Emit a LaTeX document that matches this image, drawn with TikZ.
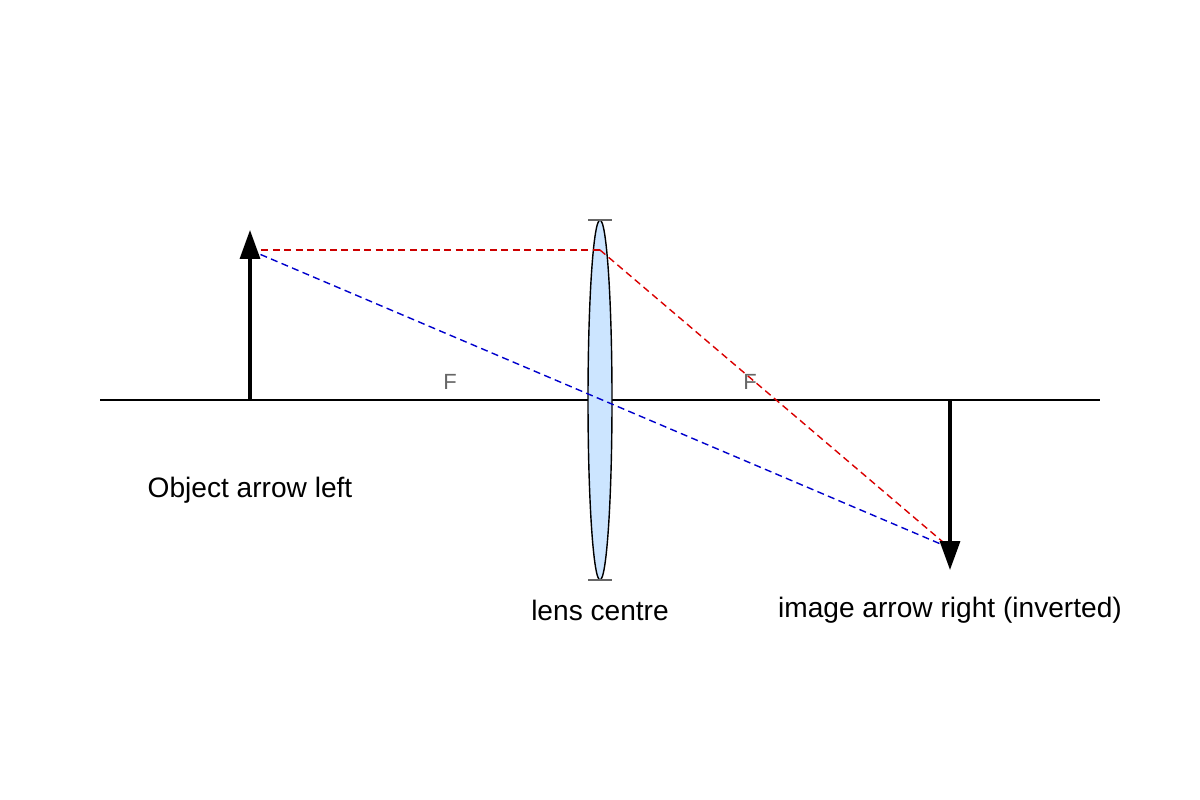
\documentclass[tikz,border=0pt]{standalone}
\usepackage{fontspec}
\setmainfont{Liberation Sans}
\usetikzlibrary{shapes.geometric,arrows.meta}
\begin{document}
\begin{tikzpicture}[x=0.02cm,y=-0.02cm,
  lbl/.style={font=\fontsize{16pt}{18pt}\selectfont,text=black},
  flbl/.style={font=\fontsize{12.5pt}{14pt}\selectfont,text=black!60},
  ray/.style={dash pattern=on 4pt off 2.5pt,line width=0.8pt},
  bigarrow/.style={line width=1.9pt,-{Triangle[length=0.58cm,width=0.4cm]}}]
\useasboundingbox (0,0) rectangle (1200,800);
\coordinate (axL) at (100,400); \coordinate (axR) at (1100,400);
\draw[line width=0.8pt] (axL) -- (axR);
\node[draw,ellipse,fill={rgb,255:red,204;green,229;blue,255},line width=0.8pt,minimum width=0.48cm,minimum height=7.2cm,inner sep=0] (lens) at (600,400) {};
\draw[black!60,line width=0.6pt] (588,220) -- (612,220) (588,580) -- (612,580);
\coordinate (ob) at (250,400); \coordinate (ot) at (250,230);
\coordinate (ib) at (950,400); \coordinate (it) at (950,570);
\coordinate (P) at (250,250); \coordinate (L) at (600,250); \coordinate (I) at (950,548);
\draw[ray,red!80!black] (P) -- (L);
\draw[ray,red!85!black] (L) -- (I);
\draw[ray,blue!80!black] (P) -- (I);
\draw[bigarrow] (ob) -- (ot);
\draw[bigarrow] (ib) -- (it);
\node[flbl] (F1) at (450,382) {F};
\node[flbl] (F2) at (750,382) {F};
\node[lbl] (t1) at (250,490) {Object arrow left};
\node[lbl] (t2) at (600,610) {lens centre};
\node[lbl] (t3) at (950,610) {image arrow right (inverted)};
\end{tikzpicture}
\end{document}
